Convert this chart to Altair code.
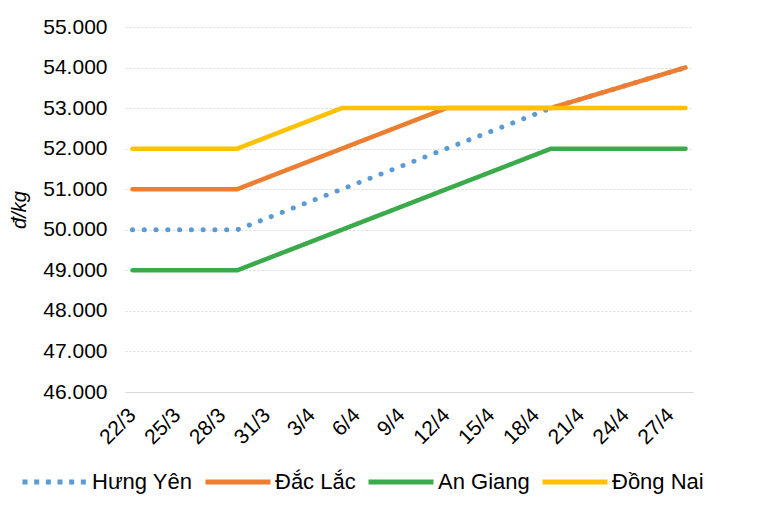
import altair as alt
import pandas as pd
from datetime import date

# ---- data ----
series_names = ["Hưng Yên", "Đắc Lắc", "An Giang", "Đồng Nai"]
colors = ["#5B9BD5", "#ED7D31", "#3AAA4A", "#FFC000"]

point_dates = ["22/3", "29/3", "5/4", "12/4", "19/4", "28/4"]
hung_yen = [50000, 50000, 51000, 52000, 53000, 54000]
dac_lac = [51000, 51000, 52000, 53000, 53000, 54000]
an_giang = [49000, 49000, 50000, 51000, 52000, 52000]
dong_nai = [52000, 52000, 53000, 53000, 53000, 53000]

tick_labels = ["22/3", "25/3", "28/3", "31/3", "3/4", "6/4", "9/4",
               "12/4", "15/4", "18/4", "21/4", "24/4", "27/4"]
y_ticks = [46000, 47000, 48000, 49000, 50000, 51000, 52000, 53000, 54000, 55000]
y_title = "đ/kg"

# ---- build table ----
def to_date(s):
    d, m = s.split("/")
    return date(2021, int(m), int(d))

start = to_date(tick_labels[0])
def day_index(s):
    return (to_date(s) - start).days

rows = []
for name, vals in zip(series_names, [hung_yen, dac_lac, an_giang, dong_nai]):
    for d, v in zip(point_dates, vals):
        rows.append({"series": name, "day": day_index(d), "price": v})
df = pd.DataFrame(rows)

tick_days = [day_index(t) for t in tick_labels]
last_day = day_index(point_dates[-1])
label_array = "[" + ",".join("'" + t + "'" for t in tick_labels) + "]"
x_label_expr = label_array + "[indexof(" + str(tick_days) + ", datum.value)]"

FONT = "Liberation Sans"

legend = alt.Legend(
    title=None, orient="none", direction="horizontal",
    legendX=-105, legendY=420,
    symbolType="stroke", symbolSize=4225, symbolStrokeWidth=5,
    labelFontSize=22, labelFont=FONT, labelColor="#000000",
    labelOffset=2, columnPadding=2,
)

color_enc = alt.Color("series:N",
                      scale=alt.Scale(domain=series_names, range=colors),
                      legend=legend)

base = alt.Chart(df).encode(
    x=alt.X("day:Q",
            scale=alt.Scale(domain=[-0.5, last_day + 0.5], nice=False, zero=False),
            axis=alt.Axis(values=tick_days, labelExpr=x_label_expr, title=None,
                          grid=False, ticks=False, domainColor="#d9d9d9",
                          domainWidth=1, labelAngle=-45, labelAlign="right",
                          labelBaseline="top", labelPadding=12, labelOffset=-8,
                          labelFontSize=21,
                          labelFont=FONT, labelColor="#000000")),
    y=alt.Y("price:Q",
            scale=alt.Scale(domain=[y_ticks[0], y_ticks[-1]], nice=False, zero=False),
            axis=alt.Axis(values=y_ticks,
                          labelExpr="replace(format(datum.value, ','), ',', '.')",
                          title=y_title, titleFont=FONT, titleFontSize=20,
                          titleFontStyle="italic", titleFontWeight="normal",
                          titleColor="#000000", titleX=-106, titleBaseline="middle",
                          grid=True, gridDash=[2, 2], gridColor="#d9d9d9",
                          domain=False, ticks=False, labelPadding=18,
                          labelFontSize=21, labelFont=FONT, labelColor="#000000")),
    color=color_enc,
)

dotted = base.transform_filter(
    alt.datum.series == series_names[0]
).mark_line(strokeDash=[0.1, 11.67], strokeCap="round", strokeWidth=5)

solid = base.transform_filter(
    alt.datum.series != series_names[0]
).mark_line(strokeWidth=4.5, strokeCap="round").encode(
    strokeDash=alt.StrokeDash(
        "series:N",
        scale=alt.Scale(domain=series_names,
                        range=[[5, 6.67], [1, 0], [1, 0], [1, 0]]),
        legend=legend)
)

chart = alt.layer(dotted, solid).properties(
    width=568, height=365,
    autosize=alt.AutoSizeParams(type="none"),
    padding={"left": 117, "top": 19, "right": 64, "bottom": 119},
    background="white",
).configure_view(stroke=None)

chart.save("out.html", embed_options={"renderer": "svg", "actions": False})
